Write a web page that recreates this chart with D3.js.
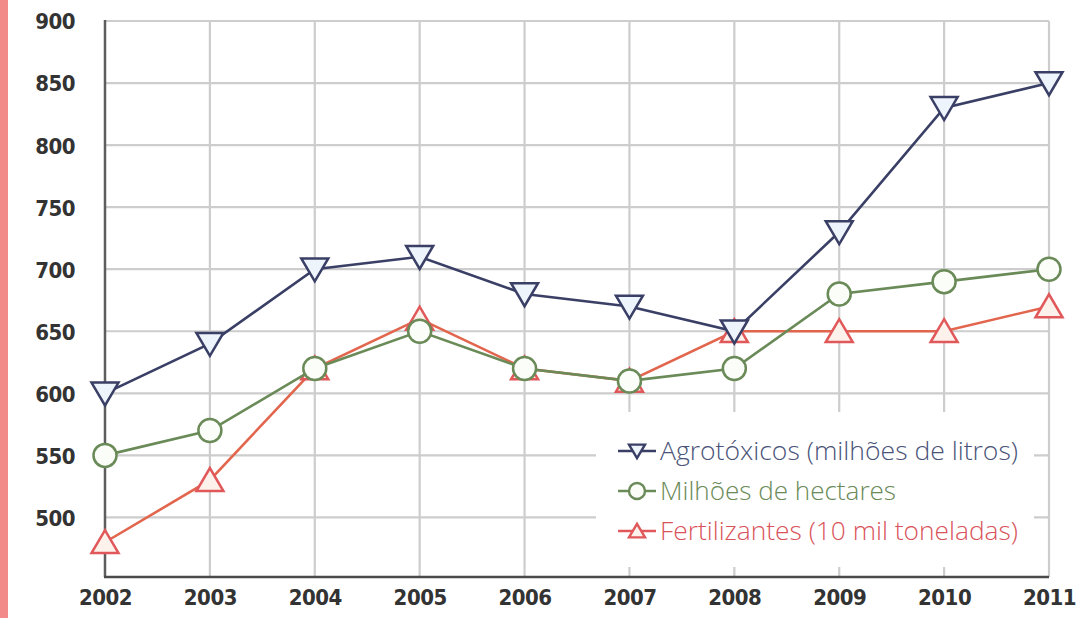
<!DOCTYPE html>
<html>
<head>
<meta charset="utf-8">
<script src="https://cdn.jsdelivr.net/npm/d3@7/dist/d3.min.js"></script>
<style>
  html, body { margin: 0; padding: 0; background: #ffffff; }
  svg { display: block; }
</style>
</head>
<body>
<script>
// Years on the x axis
const years = [2002, 2003, 2004, 2005, 2006, 2007, 2008, 2009, 2010, 2011];
// Pesticides (million litres)
const agrotoxicos = [600, 640, 700, 710, 680, 670, 650, 730, 830, 850];
// Planted area (million hectares)
const hectares = [550, 570, 620, 650, 620, 610, 620, 680, 690, 700];
// Fertilizers (10 thousand tonnes)
const fertilizantes = [480, 530, 620, 660, 620, 610, 650, 650, 650, 670];
// Y axis tick labels
const yTicks = [500, 550, 600, 650, 700, 750, 800, 850, 900];

const W = 1092, H = 618;
const svg = d3.select("body").append("svg").attr("width", W).attr("height", H);

// Decorative stripe on the left edge
svg.append("rect").attr("x", 0).attr("y", 0).attr("width", 8).attr("height", H).attr("fill", "#f38a8a");

const x = d3.scaleLinear().domain([2002, 2011]).range([105, 1049]);
const y = d3.scaleLinear().domain([452, 900]).range([577, 21]);
const yBase = y(452);

// Grid
const grid = svg.append("g").attr("stroke", "#cdcdcd").attr("stroke-width", 2.2);
grid.selectAll("line.h").data(yTicks).join("line")
  .attr("x1", x(2002)).attr("x2", x(2011))
  .attr("y1", d => y(d)).attr("y2", d => y(d));
grid.selectAll("line.v").data(years.slice(1)).join("line")
  .attr("x1", d => x(d)).attr("x2", d => x(d))
  .attr("y1", y(900)).attr("y2", yBase);

// Legend panel sits over the grid
svg.append("rect").attr("x", 596).attr("y", 412).attr("width", 438).attr("height", 155).attr("fill", "#ffffff");

// Axes
const yAxis = d3.axisLeft(y).tickValues(yTicks).tickSize(0).tickPadding(30).tickFormat(d3.format("d"));
const gy = svg.append("g").attr("transform", `translate(${x(2002)},0)`).call(yAxis);
const xAxis = d3.axisBottom(x).tickValues(years).tickSize(0).tickPadding(12).tickFormat(d3.format("d"));
const gx = svg.append("g").attr("transform", `translate(0,${yBase})`).call(xAxis);
[gx, gy].forEach(g => {
  g.select(".domain").remove();
  g.selectAll("text")
    .attr("fill", "#333333")
    .style("font-family", "'DejaVu Sans Condensed', 'DejaVu Sans', sans-serif")
    .style("font-weight", "bold")
    .style("font-size", "22px")
    .style("letter-spacing", "-0.5px");
});
gy.selectAll("text").attr("dy", "0.36em");

svg.append("line").attr("x1", x(2002)).attr("x2", x(2002)).attr("y1", y(900) - 1).attr("y2", yBase)
  .attr("stroke", "#5e5e5e").attr("stroke-width", 2.5);
svg.append("line").attr("x1", x(2002) - 1).attr("x2", x(2011)).attr("y1", yBase).attr("y2", yBase)
  .attr("stroke", "#4a4a4a").attr("stroke-width", 2.5);

// Marker shapes
const triDown = s => `M${-s},${-s * 0.8}L${s},${-s * 0.8}L0,${s * 0.9}Z`;
const triUp = s => `M${-s},${s * 0.8}L${s},${s * 0.8}L0,${-s * 0.9}Z`;

const series = [
  { name: "Fertilizantes (10 mil toneladas)", values: fertilizantes, line: "#e2664e", stroke: "#e0585a", fill: "#fdf1ec", text: "#d9535a", shape: "up", len: 358 },
  { name: "Milhões de hectares", values: hectares, line: "#6a8a58", stroke: "#6a8a58", fill: "#fbfdf8", text: "#6a8a58", shape: "circle", len: 236 },
  { name: "Agrotóxicos (milhões de litros)", values: agrotoxicos, line: "#3a3f66", stroke: "#3a3f66", fill: "#eef4fb", text: "#4a5378", shape: "down", len: 358 }
];

const line = d3.line().x((d, i) => x(years[i])).y(d => y(d));

function drawMarker(g, shape, cx, cy, s, sr) {
  if (shape === "circle") {
    return g.append("circle").attr("cx", cx).attr("cy", cy).attr("r", sr);
  }
  return g.append("path").attr("d", shape === "up" ? triUp(s) : triDown(s))
    .attr("transform", `translate(${cx},${cy})`);
}

series.forEach(s => {
  const g = svg.append("g");
  g.append("path").datum(s.values).attr("d", line)
    .attr("fill", "none").attr("stroke", s.line).attr("stroke-width", 2.6);
  s.values.forEach((v, i) => {
    drawMarker(g, s.shape, x(years[i]), y(v), 13.5, 11.5)
      .attr("fill", s.fill).attr("stroke", s.stroke).attr("stroke-width", 2.5);
  });
});

// Legend
const legendOrder = [series[2], series[1], series[0]];
const lg = svg.append("g");
legendOrder.forEach((s, i) => {
  const cy = 451 + i * 40;
  lg.append("line").attr("x1", 618).attr("x2", 656).attr("y1", cy).attr("y2", cy)
    .attr("stroke", s.stroke).attr("stroke-width", 2.6);
  drawMarker(lg, s.shape, 637, cy, 8, 8)
    .attr("fill", s.fill).attr("stroke", s.stroke).attr("stroke-width", 2.4);
  lg.append("text").attr("x", 660).attr("y", cy).attr("dy", "0.36em")
    .attr("fill", s.text)
    .attr("textLength", s.len)
    .attr("lengthAdjust", "spacingAndGlyphs")
    .style("font-family", "'Open Sans', 'Noto Sans', sans-serif")
    .style("font-weight", "300")
    .style("font-size", "26px")
    .text(s.name);
});
</script>
</body>
</html>
